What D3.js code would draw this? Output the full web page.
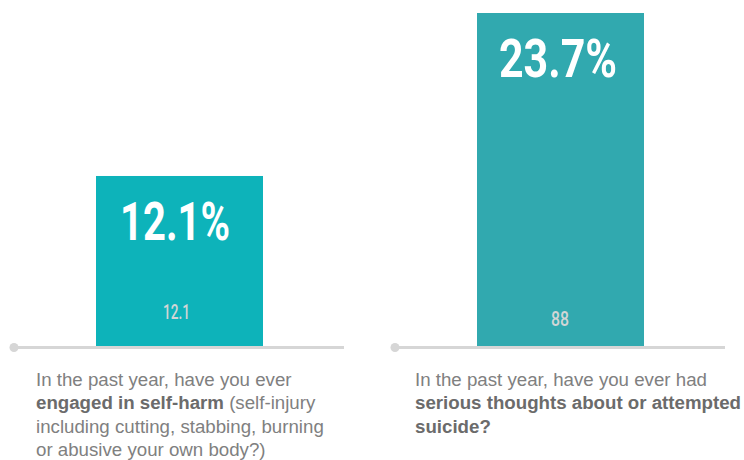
<!DOCTYPE html>
<html>
<head>
<meta charset="utf-8">
<script src="https://cdn.jsdelivr.net/npm/d3@7"></script>
<style>
  html, body { margin: 0; padding: 0; background: #ffffff; }
  svg { display: block; }
</style>
</head>
<body>
<svg id="chart" width="744" height="460"></svg>
<script>
// ---- Data ----
const categories = ["Self-harm", "Suicide thoughts/attempt"];
const values = [12.1, 23.7];
const valueLabels = ["12.1%", "23.7%"];
const innerLabels = ["12.1", "88"];
const barColors = ["#0db3ba", "#31a9af"];
// question text: arrays of lines, each line = array of [text, bold]
const questions = [
  [
    [["In the past year, have you ever", false]],
    [["engaged in self-harm", true], [" (self-injury", false]],
    [["including cutting, stabbing, burning", false]],
    [["or abusive your own body?)", false]]
  ],
  [
    [["In the past year, have you ever had", false]],
    [["serious thoughts about or attempted", true]],
    [["suicide?", true]]
  ]
];

// ---- Layout ----
const svg = d3.select("#chart");
const baselineY = 346;
const panel = d3.scaleBand().domain(categories).range([14, 776]).paddingInner(0).paddingOuter(0);
const y = d3.scaleLinear().domain([0, 23.7]).range([baselineY, 13]);
const barOffset = 82, barWidth = 167, lineLen = 330;

const g = svg.selectAll("g.panel").data(categories).join("g")
  .attr("class", "panel")
  .attr("transform", d => `translate(${panel(d)},0)`);

// bars
g.append("rect")
  .attr("x", barOffset)
  .attr("width", barWidth)
  .attr("y", (d, i) => y(values[i]))
  .attr("height", (d, i) => baselineY - y(values[i]))
  .attr("fill", (d, i) => barColors[i]);

// baseline
g.append("line")
  .attr("x1", 0).attr("x2", lineLen)
  .attr("y1", baselineY + 1.5).attr("y2", baselineY + 1.5)
  .attr("stroke", "#d6d6d6").attr("stroke-width", 3);
g.append("circle")
  .attr("cx", 0).attr("cy", baselineY + 1.5).attr("r", 4.5)
  .attr("fill", "#d6d6d6");

// big value labels
const bigStart = [24, 22], bigWidth = [110, 118];
g.append("text")
  .attr("x", (d, i) => barOffset + bigStart[i])
  .attr("y", (d, i) => y(values[i]) + 64)
  .attr("fill", "#ffffff")
  .attr("font-family", "Roboto, sans-serif")
  .attr("font-weight", 700)
  .attr("font-size", 54)
  .attr("textLength", (d, i) => bigWidth[i])
  .attr("lengthAdjust", "spacingAndGlyphs")
  .text((d, i) => valueLabels[i]);

// small inner labels
const innerOffsets = [27, 20], innerStart = [67, 74], innerWidth = [27, 18];
g.append("text")
  .attr("x", (d, i) => barOffset + innerStart[i])
  .attr("y", (d, i) => baselineY - innerOffsets[i])
  .attr("fill", "#d2d6d6")
  .attr("font-family", "Roboto, sans-serif")
  .attr("font-weight", 500)
  .attr("font-size", 19.5)
  .attr("textLength", (d, i) => innerWidth[i])
  .attr("lengthAdjust", "spacingAndGlyphs")
  .text((d, i) => innerLabels[i]);

// question text
const textOffsets = [22, 20];
g.each(function(d, i) {
  const t = d3.select(this).append("text")
    .attr("font-family", "'Liberation Sans', Arial, sans-serif")
    .attr("font-size", 18.7);
  questions[i].forEach((line, li) => {
    line.forEach((seg, si) => {
      const ts = t.append("tspan").text(seg[0])
        .attr("font-weight", seg[1] ? "bold" : "normal")
        .attr("fill", seg[1] ? "#6b6b6b" : "#808080");
      if (si === 0) ts.attr("x", textOffsets[i]).attr("y", 386 + li * 23.4);
    });
  });
});
</script>
</body>
</html>
